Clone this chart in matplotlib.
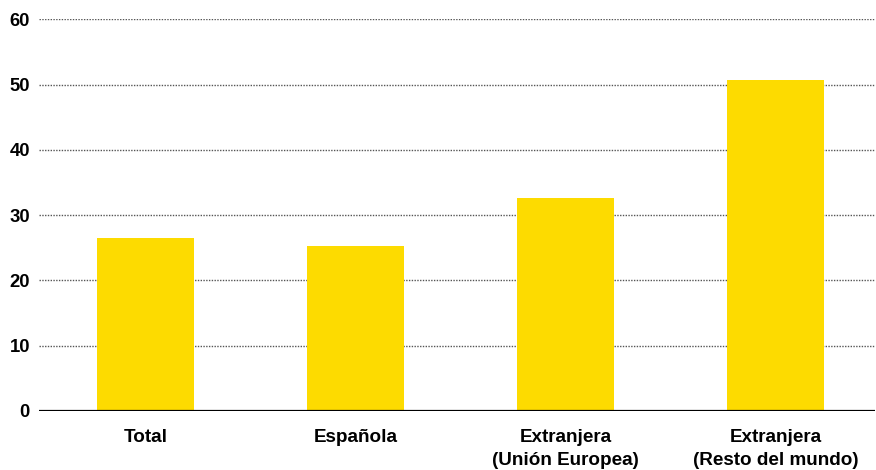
import matplotlib.pyplot as plt

# datos
categorias = ['Total', 'Española', 'Extranjera\n(Unión Europea)', 'Extranjera\n(Resto del mundo)']
valores = [26.5, 25.3, 32.6, 50.7]
yticks = [0, 10, 20, 30, 40, 50, 60]

plt.rcParams['font.family'] = ['Liberation Sans', 'DejaVu Sans']

fig = plt.figure(figsize=(8.76, 4.70), dpi=100)
ax = fig.add_axes([39 / 876, 1 - 410.7 / 470, (875 - 39) / 876, (410.7 - 19.5) / 470])

x = list(range(len(categorias)))
ax.bar(x, valores, width=0.46, color='#FDDB00', zorder=2)

ax.set_xlim(-0.507, 3.474)
ax.set_ylim(0, 60)
ax.set_yticks(yticks)
ax.set_xticks(x)
ax.set_xticklabels(categorias, fontsize=13.6, fontweight='bold', linespacing=1.45)
ax.set_yticklabels([str(v) for v in yticks], fontsize=13.3, fontweight='bold')
ax.tick_params(axis='both', length=0)
ax.tick_params(axis='y', pad=6.5)
ax.tick_params(axis='x', pad=13.5)

# líneas de cuadrícula punteadas
for v in yticks[1:]:
    ax.axhline(v, color='#555555', linestyle=(0, (1, 1)), linewidth=1.0, zorder=1)
ax.axhline(0, color='black', linewidth=1.6, zorder=3)

for s in ax.spines.values():
    s.set_visible(False)

fig.savefig('out.png', dpi=100)
